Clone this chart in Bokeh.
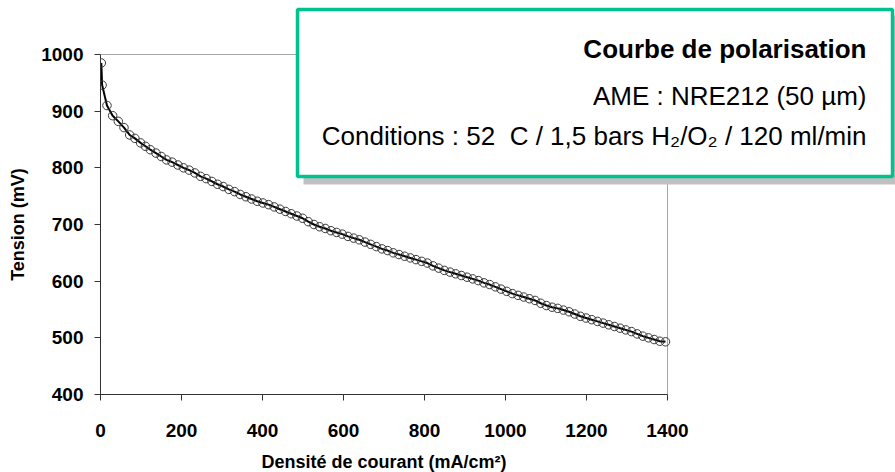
import math

from bokeh.plotting import figure
from bokeh.models import Range1d, BoxAnnotation, Label, FixedTicker
from bokeh.embed import file_html
from bokeh.resources import INLINE

# Polarisation curve: current density (mA/cm²) vs cell voltage (mV)
current_density = [2, 4, 16, 30, 44, 58, 72, 85, 99, 111, 123, 137, 150, 163, 177,
                   191, 205, 219, 233, 247, 261, 275, 289, 303, 317, 331, 345, 359,
                   373, 387, 401, 415, 429, 443, 457, 471, 485, 499, 513, 527, 541,
                   555, 569, 583, 597, 611, 625, 639, 653, 667, 681, 695, 709, 723,
                   737, 751, 765, 779, 793, 807, 821, 835, 849, 863, 877, 891, 905,
                   919, 933, 947, 961, 975, 989, 1003, 1017, 1031, 1045, 1059, 1073,
                   1087, 1101, 1115, 1129, 1143, 1157, 1171, 1185, 1199, 1213, 1227,
                   1241, 1255, 1269, 1283, 1297, 1311, 1325, 1339, 1353, 1367, 1381, 1395]
voltage = [985, 946, 910, 892, 882, 871, 858, 852, 844, 838, 832, 826, 820, 814, 810,
           805, 800, 796, 791, 785, 781, 776, 771, 767, 762, 758, 753, 749,
           745, 741, 738, 735, 731, 727, 723, 719, 715, 711, 705, 700, 696,
           693, 689, 686, 683, 679, 676, 673, 669, 665, 661, 657, 654, 650,
           647, 644, 641, 638, 635, 632, 627, 623, 619, 616, 613, 610, 607,
           604, 601, 597, 594, 590, 586, 582, 578, 575, 572, 569, 566,
           561, 557, 554, 552, 549, 546, 542, 538, 535, 532, 529,
           526, 523, 520, 517, 514, 511, 507, 503, 500, 497, 494, 493]

x_ticks = [0, 200, 400, 600, 800, 1000, 1200, 1400]
y_ticks = [400, 500, 600, 700, 800, 900, 1000]

x_title = "Densité de courant (mA/cm²)"
y_title = "Tension (mV)"
title_text = "Courbe de polarisation"
info_lines = ["AME : NRE212 (50 µm)",
              "Conditions : 52 \u00a0C / 1,5 bars H\u2082/O\u2082 / 120 ml/min"]

# The drawing area spans the full canvas to the right and top so the info box
# is not clipped; the axes themselves are bounded to the data region.
LEFT, BOTTOM = 100, 78
FRAME_W, FRAME_H = 795, 394
AXES_W, AXES_H = 567, 340
x_lo, x_hi = x_ticks[0], x_ticks[-1]
y_lo, y_hi = y_ticks[0], y_ticks[-1]
x_end = x_lo + (x_hi - x_lo) * FRAME_W / AXES_W
y_end = y_lo + (y_hi - y_lo) * FRAME_H / AXES_H

p = figure(frame_width=FRAME_W, frame_height=FRAME_H,
           output_backend="svg", toolbar_location=None,
           x_range=Range1d(x_lo, x_end), y_range=Range1d(y_lo, y_end),
           min_border_left=LEFT, min_border_right=0,
           min_border_top=0, min_border_bottom=BOTTOM)

p.xgrid.visible = False
p.ygrid.visible = False
p.outline_line_color = None
p.background_fill_color = "white"
p.border_fill_color = "white"

p.xaxis.ticker = FixedTicker(ticks=x_ticks)
p.yaxis.ticker = FixedTicker(ticks=y_ticks)
p.xaxis.bounds = (x_lo, x_hi)
p.yaxis.bounds = (y_lo, y_hi)
for ax in (p.xaxis[0], p.yaxis[0]):
    ax.axis_line_color = "#333333"
    ax.axis_line_width = 1
    ax.major_tick_line_color = "#333333"
    ax.major_tick_out = 6
    ax.major_tick_in = 0
    ax.minor_tick_out = 0
    ax.minor_tick_in = 0
    ax.major_label_text_font = "Liberation Sans"
    ax.major_label_text_font_style = "bold"
    ax.major_label_text_font_size = "19px"
    ax.major_label_text_color = "black"
p.xaxis.major_label_standoff = 23
p.yaxis.major_label_standoff = 11

# Axis titles, positioned on the data region (not the full drawing area)
axis_font = dict(text_font="Liberation Sans", text_font_style="bold",
                 text_font_size="18px", text_color="black",
                 text_align="center", text_baseline="middle")
p.add_layout(Label(x=LEFT + AXES_W / 2, y=461, x_units="canvas", y_units="canvas",
                   text=x_title, **axis_font), "below")
p.add_layout(Label(x=17, y=FRAME_H - AXES_H / 2, x_units="canvas", y_units="canvas",
                   text=y_title, angle=math.pi / 2, **axis_font), "left")

# Light grey top/right edges of the data region
p.line([x_lo, x_hi, x_hi], [y_hi, y_hi, y_lo], line_color="#a6a6a6", line_width=1)

p.line(current_density, voltage, line_color="black", line_width=2)
p.scatter(current_density, voltage, marker="circle", size=8.5,
          fill_alpha=0, line_color="#3a3a3a", line_width=1)

# Info box with drop shadow, placed in canvas pixels
shadow = BoxAnnotation(left=303, right=900, top=15, bottom=184,
                       left_units="canvas", right_units="canvas",
                       top_units="canvas", bottom_units="canvas",
                       fill_color="#c0c0c0", fill_alpha=1, line_alpha=0)
box = BoxAnnotation(left=297, right=892, top=9, bottom=176,
                    left_units="canvas", right_units="canvas",
                    top_units="canvas", bottom_units="canvas",
                    fill_color="white", fill_alpha=1,
                    line_color="#00c28f", line_alpha=1, line_width=3.5)
p.add_layout(shadow)
p.add_layout(box)

p.add_layout(Label(x=866, y=48, x_units="canvas", y_units="canvas",
                   text=title_text, text_align="right", text_baseline="alphabetic",
                   text_font="Liberation Sans", text_font_style="bold",
                   text_font_size="26px", text_color="black"))
for txt, yb in zip(info_lines, [95, 135]):
    p.add_layout(Label(x=866, y=yb, x_units="canvas", y_units="canvas",
                       text=txt, text_align="right", text_baseline="alphabetic",
                       text_font="Liberation Sans",
                       text_font_size="26px", text_color="black"))

open("out.html", "w").write(file_html(p, INLINE))
